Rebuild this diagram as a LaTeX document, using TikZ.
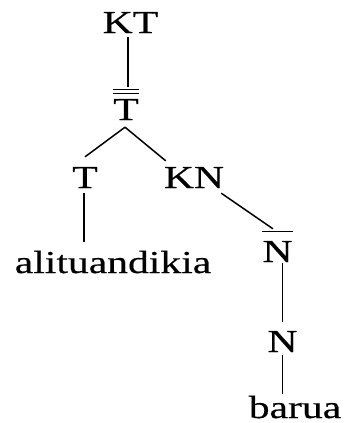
\documentclass[tikz,border=0pt]{standalone}
\usepackage{fontspec}
\setmainfont[FakeStretch=1.3,FakeBold=0.4]{Liberation Serif}
\usetikzlibrary{calc}
\tikzset{
  lbl/.style={inner sep=0pt, anchor=base, font=\fontsize{32}{38}\selectfont},
  edge/.style={line width=1.5pt},
  barline/.style={line width=1.2pt}
}
\begin{document}
\begin{tikzpicture}[x=1pt,y=1pt]
\useasboundingbox (0,0) rectangle (345,-423);
\node[lbl] (kt) at (130.5,-33) {KT};
\node[lbl] (tb) at (126,-120) {T};
\node[lbl] (t) at (85,-188) {T};
\node[lbl] (kn) at (194,-188) {KN};
\node[lbl] (al) at (113,-273) {alituandikia};
\node[lbl] (nb) at (277.5,-262) {N};
\node[lbl] (n) at (282.5,-352) {N};
\node[lbl] (ba) at (295,-418) {barua};
% bars
\draw[barline] ([yshift=9pt]tb.north west) -- ([yshift=9pt]tb.north east);
\draw[barline] ([yshift=5.5pt]tb.north west) -- ([yshift=5.5pt]tb.north east);
\draw[barline] ([yshift=9pt]nb.north west) -- ([yshift=9pt]nb.north east);
% connectors
\draw[edge] ([xshift=-2.5pt,yshift=-4pt]kt.south) -- ($(tb.north)+(2pt,12pt)$);
\draw[edge] ([xshift=-1pt,yshift=-7pt]tb.south) -- ([yshift=10pt]t.north);
\draw[edge] ([xshift=-1pt,yshift=-7pt]tb.south) -- ([xshift=2pt,yshift=6pt]kn.north west);
\draw[edge] ([xshift=-1pt,yshift=-5pt]t.south) -- ($(t.south |- al.north)+(-1pt,9pt)$);
\draw[edge] ([xshift=-3pt,yshift=-5pt]kn.south east) -- ([xshift=-4.5pt,yshift=12pt]nb.north);
\draw[edge] ($(n.north |- nb.south)+(0,-1pt)$) -- ([yshift=9pt]n.north);
\draw[edge] ([yshift=-3pt]n.south) -- ($(n.south |- ba.north)+(0,2pt)$);
\end{tikzpicture}
\end{document}
